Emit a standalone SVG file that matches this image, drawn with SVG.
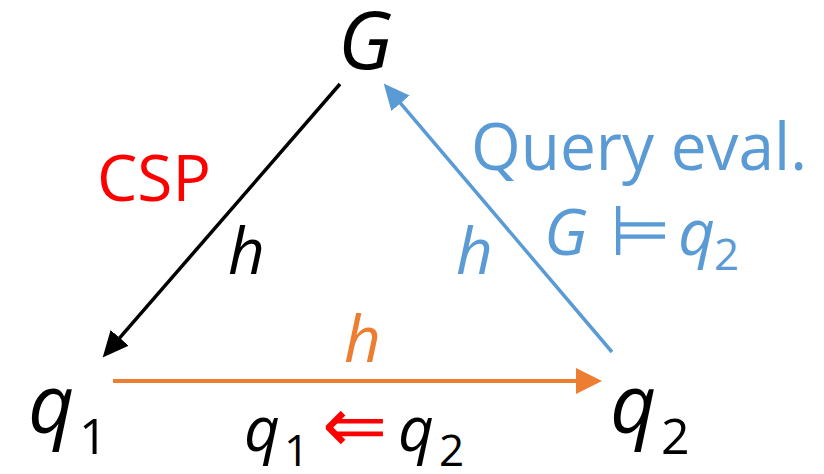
<svg xmlns="http://www.w3.org/2000/svg" width="824" height="474" viewBox="0 0 824 474">
<style>
text{font-family:"Open Sans","Liberation Sans",sans-serif}
.it{font-style:italic}
.k{fill:#000}
.blue{fill:#5B9BD5}
.org{fill:#ED7D31}
.red{fill:#FF0000}
</style>
<defs>
<marker id="ak" markerUnits="userSpaceOnUse" markerWidth="26" markerHeight="24" refX="9" refY="12" orient="auto"><path d="M0,0 L26,12 L0,24 z" fill="#000"/></marker>
<marker id="ab" markerUnits="userSpaceOnUse" markerWidth="26" markerHeight="24" refX="9" refY="12" orient="auto"><path d="M0,0 L26,12 L0,24 z" fill="#5B9BD5"/></marker>
<marker id="ao" markerUnits="userSpaceOnUse" markerWidth="26" markerHeight="26" refX="9" refY="13" orient="auto"><path d="M0,0 L26,13 L0,26 z" fill="#ED7D31"/></marker>
</defs>
<g id="connectors">
<line x1="340" y1="84" x2="113.8" y2="344.7" stroke="#000" stroke-width="3.5" marker-end="url(#ak)"/>
<line x1="612" y1="352" x2="394.7" y2="96.4" stroke="#5B9BD5" stroke-width="3.5" marker-end="url(#ab)"/>
<line x1="113" y1="381" x2="585" y2="381" stroke="#ED7D31" stroke-width="4" marker-end="url(#ao)"/>
<text class="red" x="97" y="201" font-size="64">CSP</text>
<text class="it k" x="228" y="274" font-size="64">h</text>
<text class="it blue" x="456" y="274" font-size="64">h</text>
<text class="it org" x="344" y="362" font-size="64">h</text>
<text class="blue" x="471" y="170" font-size="66" textLength="336" lengthAdjust="spacingAndGlyphs">Query eval.</text>
<text class="blue" x="544" y="255" font-size="64"><tspan class="it">G</tspan><tspan x="610" font-size="70">⊨</tspan><tspan class="it" x="678">q</tspan><tspan x="714" y="270" font-size="44">2</tspan></text>
<text class="k" x="244" y="451" font-size="62"><tspan class="it">q</tspan><tspan x="284" y="466" font-size="44">1</tspan><tspan class="red" x="322" y="452" font-size="78">⇐</tspan><tspan class="it" x="398" y="451">q</tspan><tspan x="439" y="466" font-size="44">2</tspan></text>
</g>
<g id="node-G"><text class="it k" x="338" y="69" font-size="80">G</text></g>
<g id="node-q1"><text class="k" x="28" y="433" font-size="80"><tspan class="it">q</tspan><tspan x="79" y="454" font-size="50">1</tspan></text></g>
<g id="node-q2"><text class="k" x="610" y="433" font-size="80"><tspan class="it">q</tspan><tspan x="661" y="454" font-size="50">2</tspan></text></g>
</svg>
